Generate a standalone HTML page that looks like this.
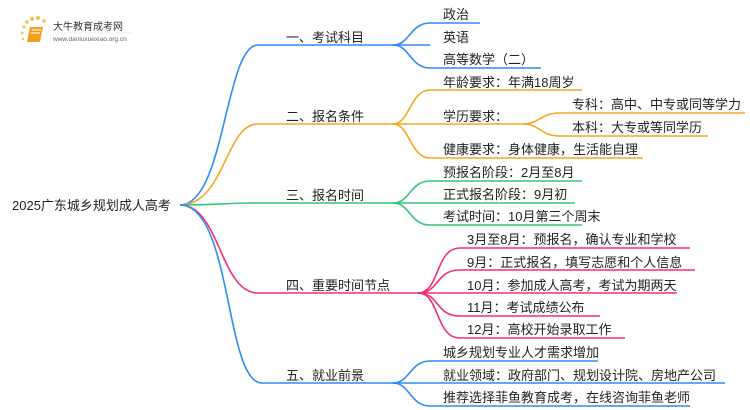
<!DOCTYPE html>
<html><head><meta charset="utf-8"><style>
body{margin:0;background:#fff;}
svg{display:block;}
text{font-family:"Liberation Sans","Noto Sans CJK SC",sans-serif;fill:#222;font-size:13px;}
</style></head><body>
<svg width="750" height="410" viewBox="0 0 750 410" xmlns="http://www.w3.org/2000/svg">
<g>
<circle cx="24" cy="27" r="1.6" fill="#f6c04a"/><circle cx="27" cy="22" r="1.8" fill="#f6c04a"/><circle cx="32" cy="19" r="2" fill="#f6c04a"/><circle cx="38" cy="18" r="2" fill="#f6c04a"/><circle cx="44" cy="21" r="1.8" fill="#f6c04a"/><circle cx="22" cy="33" r="1.4" fill="#f6c04a"/><circle cx="23" cy="39" r="1.2" fill="#f6c04a"/>
<path d="M30 27 L43 27 L40 42 L27 42 Z" fill="#f0a020"/>
<path d="M32 30 L41 30 M31 33 L40 33" stroke="#fff" stroke-width="1"/>
<text x="53" y="30" style="font-size:10px;fill:#333">大牛教育成考网</text>
<text x="53" y="41" style="font-size:6.5px;fill:#666">www.daniuxuexiao.org.cn</text>
<line x1="53" y1="33" x2="132" y2="33" stroke="#ddd" stroke-width="0.6"/>
</g>
<g fill="none" stroke-width="1.6">
<path d="M180 205 C225 205 225 45 258 45 L395 45" stroke="#2f8cf5"/>
<path d="M393 45 C410 45 410 23 430 23 L480 23" stroke="#2f8cf5"/>
<path d="M393 45 L430 45" stroke="#2f8cf5"/>
<path d="M393 45 C410 45 410 68 430 68 L541 68" stroke="#2f8cf5"/>
<path d="M180 205 C225 205 225 124 258 124 L395 124" stroke="#f5a623"/>
<path d="M393 124 C410 124 410 90 430 90 L582 90" stroke="#f5a623"/>
<path d="M393 124 L525 124" stroke="#f5a623"/>
<path d="M393 124 C410 124 410 158 430 158 L643 158" stroke="#f5a623"/>
<path d="M523 124 C540 124 540 113 560 113 L745 113" stroke="#f5a623"/>
<path d="M523 124 C540 124 540 136 560 136 L708 136" stroke="#f5a623"/>
<path d="M180 205 C220 205 225 203 258 203 L395 203" stroke="#36c67a"/>
<path d="M393 203 C410 203 410 181 430 181 L582 181" stroke="#36c67a"/>
<path d="M393 203 L575 203" stroke="#36c67a"/>
<path d="M393 203 C410 203 410 225 430 225 L582 225" stroke="#36c67a"/>
<path d="M180 205 C220 205 220 293 258 293 L420 293" stroke="#f0306f"/>
<path d="M418 293 C440 293 435 248 460 248 L690 248" stroke="#f0306f"/>
<path d="M418 293 C440 293 435 270 460 270 L695 270" stroke="#f0306f"/>
<path d="M418 293 L677 293" stroke="#f0306f"/>
<path d="M418 293 C440 293 435 316 460 316 L600 316" stroke="#f0306f"/>
<path d="M418 293 C440 293 435 338 460 338 L625 338" stroke="#f0306f"/>
<path d="M180 205 C232 205 225 383 262 383 L395 383" stroke="#2f8cf5"/>
<path d="M393 383 C410 383 410 361 430 361 L598 361" stroke="#2f8cf5"/>
<path d="M393 383 L725 383" stroke="#2f8cf5"/>
<path d="M393 383 C410 383 410 406 430 406 L690 406" stroke="#2f8cf5"/>
</g>
<text x="12" y="210" style="font-size:13px">2025广东城乡规划成人高考</text>
<text x="286" y="42">一、考试科目</text>
<text x="286" y="121">二、报名条件</text>
<text x="286" y="200">三、报名时间</text>
<text x="286" y="290">四、重要时间节点</text>
<text x="286" y="380">五、就业前景</text>
<text x="443" y="19">政治</text>
<text x="443" y="42">英语</text>
<text x="443" y="64">高等数学（二）</text>
<text x="443" y="87">年龄要求：年满18周岁</text>
<text x="443" y="121">学历要求：</text>
<text x="572" y="109">专科：高中、中专或同等学力</text>
<text x="572" y="132">本科：大专或等同学历</text>
<text x="443" y="154">健康要求：身体健康，生活能自理</text>
<text x="443" y="177">预报名阶段：2月至8月</text>
<text x="443" y="199">正式报名阶段：9月初</text>
<text x="443" y="221">考试时间：10月第三个周末</text>
<text x="467" y="244">3月至8月：预报名，确认专业和学校</text>
<text x="467" y="267">9月：正式报名，填写志愿和个人信息</text>
<text x="467" y="290">10月：参加成人高考，考试为期两天</text>
<text x="467" y="312">11月：考试成绩公布</text>
<text x="467" y="334">12月：高校开始录取工作</text>
<text x="443" y="357">城乡规划专业人才需求增加</text>
<text x="443" y="380">就业领域：政府部门、规划设计院、房地产公司</text>
<text x="443" y="402">推荐选择菲鱼教育成考，在线咨询菲鱼老师</text>
</svg>
</body></html>
